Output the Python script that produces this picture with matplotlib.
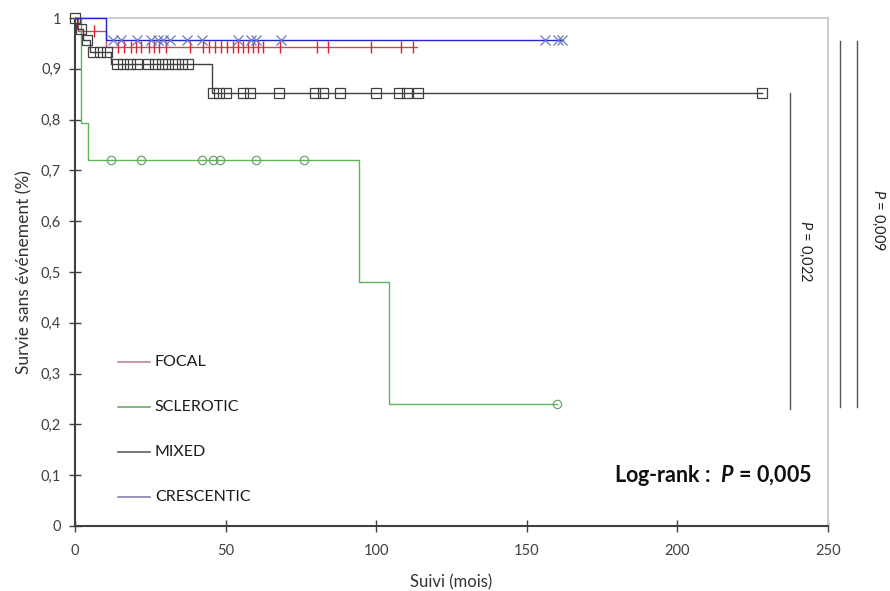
import numpy as np
import matplotlib.pyplot as plt

plt.rcParams['font.family'] = ['Lato', 'DejaVu Sans']
plt.rcParams['mathtext.fontset'] = 'custom'
plt.rcParams['mathtext.rm'] = 'Lato'
plt.rcParams['mathtext.it'] = 'Lato:italic'
plt.rcParams['mathtext.bf'] = 'Lato:bold'
plt.rcParams['mathtext.bfit'] = 'Lato:bold:italic'

# step data: event times (mois) and survival after each step
focal_t = [0, 1.0, 10.3]
focal_s = [1.0, 0.975, 0.942]
focal_end = 113.5
focal_cens = [6.3, 14.4, 16.3, 18.5, 20.3, 21.9, 24.7, 26.3, 28.0, 30.2, 38.2, 42.4,
              44.5, 46.5, 48.5, 50.4, 52.4, 54.2, 55.9, 57.5, 59.2, 60.9, 62.3, 68.1,
              80.2, 84.1, 98.2, 108.1, 112.3]

scler_t = [0, 2.0, 4.4, 94.3, 104.3]
scler_s = [1.0, 0.793, 0.72, 0.48, 0.24]
scler_end = 160
scler_cens = [12.0, 21.9, 42.0, 45.9, 48.1, 60.1, 76.1, 160.0]

mixed_t = [0, 0.7, 2.7, 5.0, 11.8, 45.5]
mixed_s = [1.0, 0.978, 0.957, 0.934, 0.909, 0.852]
mixed_end = 228
mixed_cens = [0, 1.9, 3.9, 6.1, 8.3, 10.5, 13.8, 16.0, 18.3, 20.5, 24.3, 26.6, 28.8,
              31.0, 33.2, 35.4, 37.6, 45.9, 47.9, 50.1, 55.9, 58.1, 67.8, 79.7, 82.4,
              88.0, 100.0, 107.7, 110.1, 114.0, 228.0]

cres_t = [0, 10.2]
cres_s = [1.0, 0.957]
cres_end = 162
cres_cens = [12.6, 15.3, 20.6, 25.2, 27.6, 29.2, 31.5, 37.2, 42.2, 54.1, 58.4, 60.1,
             68.4, 156.0, 160.4, 161.7]

groups = ['FOCAL', 'SCLEROTIC', 'MIXED', 'CRESCENTIC']
xticks = [0, 50, 100, 150, 200, 250]
yticks = [0, 0.1, 0.2, 0.3, 0.4, 0.5, 0.6, 0.7, 0.8, 0.9, 1.0]


def surv_at(times, surv, x):
    idx = np.searchsorted(times, x, side='right') - 1
    return np.array(surv)[idx]


fig = plt.figure(figsize=(8.9, 5.91), dpi=100)
ax = fig.add_axes([0.0843, 0.110, 0.8460, 0.8595])

series = [
    (focal_t, focal_s, focal_end, focal_cens, '#B8505C', '|', '#E02030', 9, 1.0),
    (scler_t, scler_s, scler_end, scler_cens, '#58B858', 'o', '#70A070', 6, 0.9),
    (mixed_t, mixed_s, mixed_end, mixed_cens, '#404040', 's', '#404040', 6.5, 0.9),
    (cres_t, cres_s, cres_end, cres_cens, '#2424D0', 'x', '#6878C0', 7, 0.9),
]

for (t, s, end, cens, col, mk, mcol, ms, mew), name in zip(series, groups):
    ax.step(list(t) + [end], list(s) + [s[-1]], where='post', color=col,
            lw=1.0, clip_on=False, zorder=3)
    ax.plot(cens, surv_at(t, s, cens), ls='none', marker=mk, ms=ms,
            mfc='none', mec=mcol, mew=mew, clip_on=False, zorder=4)

# legend drawn by hand so the line colours stay soft
leg_cols = ['#C08890', '#70A870', '#606060', '#8080B0']
leg_y = [0.322, 0.234, 0.145, 0.057]
for name, c, yy in zip(groups, leg_cols, leg_y):
    ax.plot([14.3, 24.9], [yy, yy], color=c, lw=1.2)
    ax.text(26.5, yy, name, fontsize=11.5, va='center', ha='left', color='#1a1a1a')

ax.set_xlim(0, 250)
ax.set_ylim(0, 1)
ax.set_xticks(xticks)
ax.set_xticklabels([str(v) for v in xticks], fontsize=10.5, color='#404040')
ax.set_yticks(yticks)
ax.set_yticklabels(['0' if v == 0 else ('1' if v == 1 else ('%.1f' % v).replace('.', ','))
                    for v in yticks], fontsize=10.5, color='#404040')
ax.tick_params(direction='inout', length=8, width=1, color='#404040', pad=6)
ax.tick_params(axis='x', pad=9)
ax.set_xlabel('Suivi (mois)', fontsize=12, color='#333333', labelpad=12)
ax.set_ylabel('Survie sans événement (%)', fontsize=12.5, color='#333333', labelpad=6)

for side in ['left', 'bottom']:
    ax.spines[side].set_color('#404040')
    ax.spines[side].set_linewidth(1.5)
for side in ['top', 'right']:
    ax.spines[side].set_color('#CFCFCF')
    ax.spines[side].set_linewidth(1.5)

ax.text(0.979, 0.100, r'Log-rank :  $\mathbfit{P}$ = 0,005', transform=ax.transAxes,
        fontsize=15.5, fontweight='bold', ha='right', va='center', color='#111111')

# comparison brackets at the right
ax.plot([237.3, 237.3], [0.23, 0.853], color='#555555', lw=1.0, clip_on=False)
ax.text(242.5, 0.54, '$P$ = 0,022', rotation=-90, fontsize=10.5, ha='center',
        va='center', color='#222222')
ax.plot([254, 254], [0.235, 0.955], color='#555555', lw=1.0, clip_on=False)
ax.plot([259.5, 259.5], [0.235, 0.955], color='#555555', lw=1.0, clip_on=False)
ax.text(266.5, 0.602, '$P$ = 0,009', rotation=-90, fontsize=10.5, ha='center',
        va='center', color='#222222')

fig.savefig('out.png', dpi=100)
